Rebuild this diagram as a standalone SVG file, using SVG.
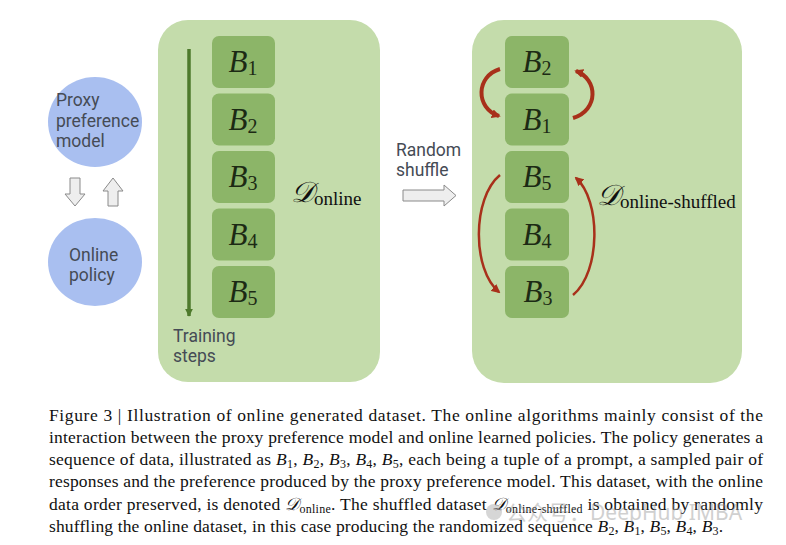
<svg xmlns="http://www.w3.org/2000/svg" width="786" height="545" viewBox="0 0 786 545">
<style>
  .panel { fill: #c4dcab; }
  .box { fill: #8cb568; }
  .circ { fill: #a9bff0; }
  .bl { font-family: "Liberation Serif", "DejaVu Serif", serif; font-size: 31px; fill: #1c2a14; text-anchor: middle; }
  .bl .v { font-style: italic; }
  .bl .s { font-size: 20px; }
  .sans { font-family: Roboto, "Noto Sans", sans-serif; font-size: 17.5px; fill: #454b55; }
  .dl { font-family: "Liberation Serif", "DejaVu Serif", serif; fill: #111; }
  .hollow { fill: #eeeeee; stroke: #8a8a8a; stroke-width: 1; }
  .red { fill: none; stroke: #a8301a; marker-end: url(#rh); }
  .cap { font-family: "Liberation Serif", "Times New Roman", serif; font-size: 17.5px; fill: #111; }
  .cap .i { font-style: italic; }
  .cap .s { font-size: 12px; }
</style>
<defs>
  <marker id="rh" viewBox="0 0 10 10" refX="8" refY="5" markerWidth="9" markerHeight="9" markerUnits="userSpaceOnUse" orient="auto">
    <path d="M0,0 L10,5 L0,10 z" fill="#a8301a"/>
  </marker>
  <marker id="gh" viewBox="0 0 10 10" refX="9" refY="5" markerWidth="8" markerHeight="8" markerUnits="userSpaceOnUse" orient="auto">
    <path d="M0,0 L10,5 L0,10 z" fill="#4e7a2c"/>
  </marker>
</defs>
<rect width="786" height="545" fill="#ffffff"/>

<!-- left side circles -->
<g id="proxy">
  <ellipse class="circ" cx="95" cy="122" rx="47" ry="45"/>
  <text class="sans" x="56" y="106">Proxy</text>
  <text class="sans" x="56" y="127">preference</text>
  <text class="sans" x="56" y="147">model</text>
</g>
<g id="policy">
  <ellipse class="circ" cx="95" cy="262" rx="47" ry="44"/>
  <text class="sans" x="69" y="261">Online</text>
  <text class="sans" x="69" y="281">policy</text>
</g>

<!-- online panel -->
<g id="online-panel">
  <rect class="panel" x="158" y="20" width="222" height="362" rx="30"/>
  <text class="sans" x="173" y="342">Training</text>
  <text class="sans" x="173" y="362">steps</text>
  <text class="dl" x="291" y="202"><tspan font-size="29" font-style="italic">𝒟</tspan><tspan font-size="19" dy="3">online</tspan></text>
</g>
<g id="L-B1"><rect class="box" x="212" y="36" width="63" height="52" rx="7"/><text class="bl" x="243" y="72"><tspan class="v">B</tspan><tspan class="s" dy="3">1</tspan></text></g>
<g id="L-B2"><rect class="box" x="212" y="93.5" width="63" height="52" rx="7"/><text class="bl" x="243" y="129.5"><tspan class="v">B</tspan><tspan class="s" dy="3">2</tspan></text></g>
<g id="L-B3"><rect class="box" x="212" y="151" width="63" height="52" rx="7"/><text class="bl" x="243" y="187"><tspan class="v">B</tspan><tspan class="s" dy="3">3</tspan></text></g>
<g id="L-B4"><rect class="box" x="212" y="208.5" width="63" height="52" rx="7"/><text class="bl" x="243" y="244.5"><tspan class="v">B</tspan><tspan class="s" dy="3">4</tspan></text></g>
<g id="L-B5"><rect class="box" x="212" y="266" width="63" height="52" rx="7"/><text class="bl" x="243" y="302"><tspan class="v">B</tspan><tspan class="s" dy="3">5</tspan></text></g>

<!-- random shuffle label -->
<g id="shuffle-label">
  <text class="sans" x="396" y="156" font-size="17">Random</text>
  <text class="sans" x="396" y="176" font-size="17">shuffle</text>
</g>

<!-- shuffled panel -->
<g id="shuffled-panel">
  <rect class="panel" x="472" y="20" width="270" height="363" rx="32"/>
  <text class="dl" x="597" y="205"><tspan font-size="29" font-style="italic">𝒟</tspan><tspan font-size="19" dy="3">online-shuffled</tspan></text>
</g>
<g id="R-B2"><rect class="box" x="505" y="36" width="64" height="52" rx="7"/><text class="bl" x="537" y="72"><tspan class="v">B</tspan><tspan class="s" dy="3">2</tspan></text></g>
<g id="R-B1"><rect class="box" x="505" y="93.5" width="64" height="52" rx="7"/><text class="bl" x="537" y="129.5"><tspan class="v">B</tspan><tspan class="s" dy="3">1</tspan></text></g>
<g id="R-B5"><rect class="box" x="505" y="151" width="64" height="52" rx="7"/><text class="bl" x="537" y="187"><tspan class="v">B</tspan><tspan class="s" dy="3">5</tspan></text></g>
<g id="R-B4"><rect class="box" x="505" y="208.5" width="64" height="52" rx="7"/><text class="bl" x="537" y="244.5"><tspan class="v">B</tspan><tspan class="s" dy="3">4</tspan></text></g>
<g id="R-B3"><rect class="box" x="505" y="266" width="64" height="52" rx="7"/><text class="bl" x="538" y="302"><tspan class="v">B</tspan><tspan class="s" dy="3">3</tspan></text></g>

<!-- connectors -->
<g id="connectors">
  <path class="hollow" d="M70,178 H80 V194 H85 L75,206 L65,194 H70 Z"/>
  <path class="hollow" d="M108,206 H118 V191 H123 L113,178 L103,191 H108 Z"/>
  <path class="hollow" d="M403,190 H444 V185 L456,195.5 L444,206 V201 H403 Z"/>
  <line x1="189" y1="49" x2="189" y2="316" stroke="#4e7a2c" stroke-width="3.5" marker-end="url(#gh)"/>
  <path class="red" stroke-width="4" d="M500,69 C476,76 475,108 499,116"/>
  <path class="red" stroke-width="4" d="M573,118 C599,110 598,79 576,71"/>
  <path class="red" stroke-width="2.5" d="M500,175 C472,198 472,270 499,292"/>
  <path class="red" stroke-width="2.5" d="M573,295 C601,272 601,200 576,178"/>
</g>

<!-- caption -->
<g id="caption">
  <text class="cap" x="49" y="421" textLength="714" lengthAdjust="spacing">Figure 3 | Illustration of online generated dataset.  The online algorithms mainly consist of the</text>
  <text class="cap" x="49" y="443" textLength="714" lengthAdjust="spacing">interaction between the proxy preference model and online learned policies. The policy generates a</text>
  <text class="cap" x="49" y="465" textLength="714" lengthAdjust="spacing">sequence of data, illustrated as <tspan class="i">B</tspan><tspan class="s" dy="3">1</tspan><tspan dy="-3">, </tspan><tspan class="i">B</tspan><tspan class="s" dy="3">2</tspan><tspan dy="-3">, </tspan><tspan class="i">B</tspan><tspan class="s" dy="3">3</tspan><tspan dy="-3">, </tspan><tspan class="i">B</tspan><tspan class="s" dy="3">4</tspan><tspan dy="-3">, </tspan><tspan class="i">B</tspan><tspan class="s" dy="3">5</tspan><tspan dy="-3">, each being a tuple of a prompt, a sampled pair of</tspan></text>
  <text class="cap" x="49" y="487" textLength="714" lengthAdjust="spacing">responses and the preference produced by the proxy preference model. This dataset, with the online</text>
  <text class="cap" x="49" y="510" textLength="714" lengthAdjust="spacing">data order preserved, is denoted <tspan class="i">𝒟</tspan><tspan class="s" dy="3">online</tspan><tspan dy="-3">. The shuffled dataset </tspan><tspan class="i">𝒟</tspan><tspan class="s" dy="3">online-shuffled</tspan><tspan dy="-3"> is obtained by randomly</tspan></text>
  <text class="cap" x="49" y="532" textLength="674" lengthAdjust="spacing">shuffling the online dataset, in this case producing the randomized sequence <tspan class="i">B</tspan><tspan class="s" dy="3">2</tspan><tspan dy="-3">, </tspan><tspan class="i">B</tspan><tspan class="s" dy="3">1</tspan><tspan dy="-3">, </tspan><tspan class="i">B</tspan><tspan class="s" dy="3">5</tspan><tspan dy="-3">, </tspan><tspan class="i">B</tspan><tspan class="s" dy="3">4</tspan><tspan dy="-3">, </tspan><tspan class="i">B</tspan><tspan class="s" dy="3">3</tspan><tspan dy="-3">.</tspan></text>
</g>

<!-- watermark -->
<g id="watermark" opacity="0.4">
  <circle cx="494" cy="512" r="8" fill="#9a9a9a"/>
  <text x="506" y="520" font-family="'Noto Sans', 'Noto Sans CJK SC', sans-serif" font-size="21" fill="#8c8c8c">公众号：DeepHub IMBA</text>
</g>
</svg>
